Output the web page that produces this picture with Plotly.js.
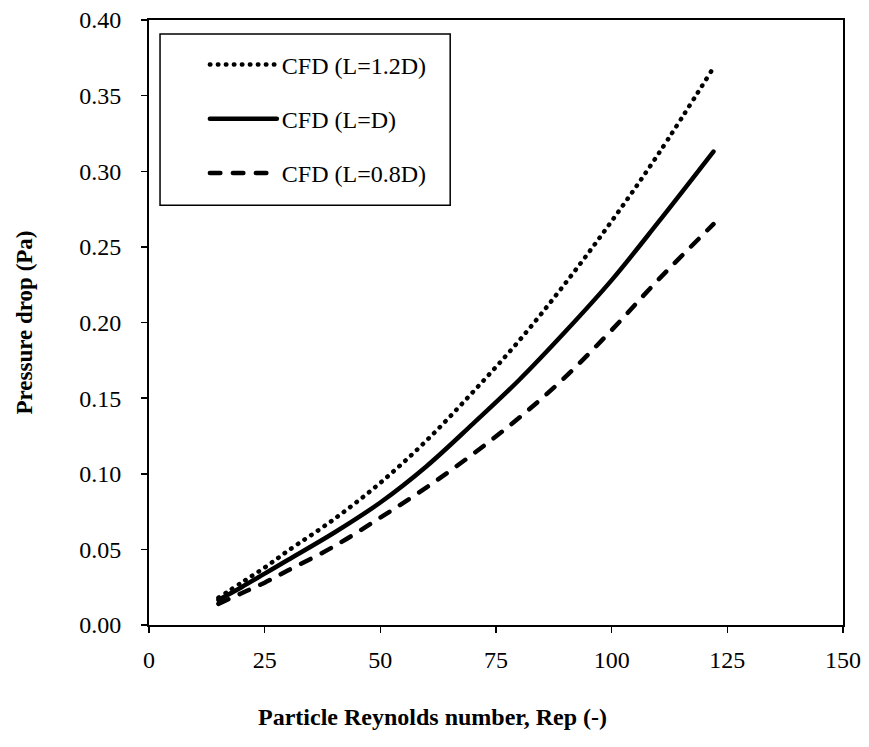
<!DOCTYPE html>
<html>
<head>
<meta charset="utf-8">
<script src="https://cdn.plot.ly/plotly-3.0.1.min.js"></script>
<style>
  body { margin: 0; background: #fff; }
  #chart { width: 869px; height: 747px; }
  .scatterlayer path.js-line, .legend path.js-line { stroke-linecap: round; }
</style>
</head>
<body>
<div id="chart"></div>
<script>
// Particle Reynolds number (x) and pressure drop in Pa (y)
const rep_12D = [15, 20, 25, 30, 40, 50, 60, 70, 80, 90, 100, 110, 121.5];
const dp_12D  = [0.018, 0.028, 0.038, 0.049, 0.070, 0.094, 0.122, 0.154, 0.188, 0.226, 0.267, 0.311, 0.366];

const rep_D = [15, 20, 25, 30, 40, 50, 60, 70, 80, 90, 100, 110, 122];
const dp_D  = [0.0166, 0.025, 0.034, 0.043, 0.061, 0.081, 0.105, 0.133, 0.162, 0.194, 0.228, 0.266, 0.313];

const rep_08D = [15, 20, 25, 30, 40, 50, 60, 70, 80, 90, 100, 110, 122];
const dp_08D  = [0.014, 0.021, 0.028, 0.036, 0.052, 0.071, 0.091, 0.113, 0.137, 0.164, 0.195, 0.228, 0.265];

const seriesNames = ["CFD (L=1.2D)", "CFD (L=D)", "CFD (L=0.8D)"];
const xTicks = [0, 25, 50, 75, 100, 125, 150];
const yTicks = [0, 0.05, 0.10, 0.15, 0.20, 0.25, 0.30, 0.35, 0.40];
const yTickText = ["0.00", "0.05", "0.10", "0.15", "0.20", "0.25", "0.30", "0.35", "0.40"];
const xTitle = "Particle Reynolds number, Rep (-)";
const yTitle = "Pressure drop (Pa)";

const FONT = "Liberation Serif, Times New Roman, serif";

const traces = [
  {x: rep_12D, y: dp_12D, name: seriesNames[0], mode: "lines", legendgroup: "a",
   line: {color: "#000", width: 4.5, dash: "0.5px,7.5px", shape: "spline"}},
  {x: rep_D, y: dp_D, name: seriesNames[1], mode: "lines", legendgroup: "b",
   line: {color: "#000", width: 4.5, dash: "solid", shape: "spline"}},
  {x: rep_08D, y: dp_08D, name: seriesNames[2], mode: "lines", legendgroup: "c",
   line: {color: "#000", width: 4.5, dash: "10.5px,12.5px", shape: "spline"}}
];

const layout = {
  width: 869, height: 747,
  margin: {l: 149, r: 26, t: 20, b: 122},
  paper_bgcolor: "#fff", plot_bgcolor: "#fff",
  font: {family: FONT, color: "#000", size: 24},
  showlegend: true,
  legend: {
    x: 0.0805, y: 0.963, xanchor: "left", yanchor: "top",
    bgcolor: "rgba(0,0,0,0)", borderwidth: 0,
    font: {family: FONT, size: 24, color: "#000"},
    traceorder: "grouped", tracegroupgap: 20, itemwidth: 67
  },
  shapes: [{
    type: "rect", xref: "paper", yref: "paper",
    x0: 0.0159, x1: 0.434, y0: 0.694, y1: 0.977,
    line: {color: "#000", width: 1.5}, fillcolor: "#fff", layer: "above"
  }],
  annotations: [{
    text: "<b>" + xTitle + "</b>", xref: "paper", yref: "paper",
    x: 0.409, y: -0.152, xanchor: "center", yanchor: "middle", showarrow: false,
    font: {family: FONT, size: 24, color: "#000"}
  }],
  xaxis: {
    range: [0, 150], tickvals: xTicks, ticktext: xTicks.map(String),
    showgrid: false, zeroline: false,
    showline: true, linecolor: "#000", linewidth: 2, mirror: true,
    ticks: "outside", ticklen: 6, tickwidth: 1.5, tickcolor: "#000",
    ticklabelstandoff: 6,
    tickfont: {family: FONT, size: 24, color: "#000"}
  },
  yaxis: {
    range: [0, 0.4], tickvals: yTicks, ticktext: yTickText,
    showgrid: false, zeroline: false,
    showline: true, linecolor: "#000", linewidth: 2, mirror: true,
    ticks: "outside", ticklen: 6, tickwidth: 1.5, tickcolor: "#000",
    ticklabelstandoff: 15,
    tickfont: {family: FONT, size: 24, color: "#000"},
    title: {text: "<b>" + yTitle + "</b>", font: {family: FONT, size: 23, color: "#000"}, standoff: 40}
  }
};

Plotly.newPlot("chart", traces, layout, {displayModeBar: false, staticPlot: true});
</script>
</body>
</html>
